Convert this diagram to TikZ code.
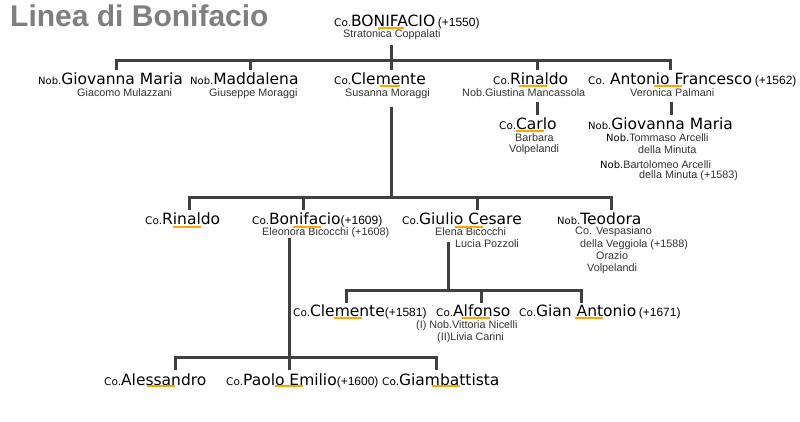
\documentclass[tikz,border=0pt]{standalone}
\usepackage{fontspec}
\setmainfont{DejaVu Sans}
\newfontfamily\namefont{DejaVu Sans}
\newfontfamily\smallfont{Liberation Sans}
\newfontfamily\titlefont{Liberation Sans}
\definecolor{lnc}{HTML}{404040}
\definecolor{ulc}{HTML}{FFA500}
\definecolor{smc}{HTML}{333333}
\definecolor{ttc}{HTML}{7F7F7F}
\newcommand\pCo{{\namefont\fontsize{10.5}{12}\selectfont Co.}}
\newcommand\pNob{{\namefont\fontsize{10}{12}\selectfont Nob.}}
\newcommand\yr[1]{{\smallfont\fontsize{12}{14}\selectfont #1}}
\tikzset{
  nm/.style={anchor=base west, inner sep=0pt, font=\namefont\fontsize{15.5}{18}\selectfont, text=black},
  sm/.style={anchor=base west, inner sep=0pt, font=\smallfont\fontsize{10.8}{13}\selectfont, text=smc},
  tree/.style={draw=lnc, line width=3pt, line join=miter},
  uline/.style={draw=ulc, line width=2pt},
}
\begin{document}
\begin{tikzpicture}[x=1pt,y=-1pt]
\useasboundingbox (0,0) rectangle (800,421);
% title
\node[anchor=base west, inner sep=0pt, font=\titlefont\bfseries\fontsize{30}{34}\selectfont, text=ttc] (title) at (10,26) {Linea di Bonifacio};
% generation 0
\node[nm] (g0) at (334,26) {\pCo BONIFACIO\,\yr{(+1550)}};
\node[sm] (g0s) at (343,37) {Stratonica Coppalati};
% generation 1
\node[nm] (a1) at (38,84) {\pNob Giovanna Maria};
\node[sm] (a1s) at (77,96) {Giacomo Mulazzani};
\node[nm] (a2) at (190,84) {\pNob Maddalena};
\node[sm] (a2s) at (209,96) {Giuseppe Moraggi};
\node[nm] (a3) at (334,84) {\pCo Clemente};
\node[sm] (a3s) at (345,96) {Susanna Moraggi};
\node[nm] (a4) at (493,84) {\pCo Rinaldo};
\node[sm] (a4s) at (462,96) {Nob.Giustina Mancassola};
\node[nm] (a5) at (588,84) {\pCo\ Antonio Francesco\,\yr{(+1562)}};
\node[sm] (a5s) at (630,96) {Veronica Palmani};
% children of Rinaldo and Antonio Francesco
\node[nm] (b1) at (499,129) {\pCo Carlo};
\node[sm] (b1s1) at (515,141) {Barbara};
\node[sm] (b1s2) at (509,152) {Volpelandi};
\node[nm] (b2) at (588,129) {\pNob Giovanna Maria};
\node[sm] (b2s1) at (606,141) {{\color{black}\pNob}Tommaso Arcelli};
\node[sm] (b2s2) at (638,153) {della Minuta};
\node[sm] (b2s3) at (600,168) {{\color{black}\pNob}Bartolomeo Arcelli};
\node[sm] (b2s4) at (639,178) {della Minuta (+1583)};
% generation 2 (children of Clemente)
\node[nm] (c1) at (145,224) {\pCo Rinaldo};
\node[nm] (c2) at (252,224) {\pCo Bonifacio\yr{(+1609)}};
\node[sm] (c2s) at (262,235) {Eleonora Bicocchi (+1608)};
\node[nm] (c3) at (402,224) {\pCo Giulio Cesare};
\node[sm] (c3s1) at (435,235) {Elena Bicocchi};
\node[sm] (c3s2) at (455,247) {Lucia Pozzoli};
\node[nm] (c4) at (557,224) {\pNob Teodora};
\node[sm] (c4s1) at (575,234) {Co. Vespasiano};
\node[sm] (c4s2) at (580,247) {della Veggiola (+1588)};
\node[sm] (c4s3) at (596,259) {Orazio};
\node[sm] (c4s4) at (587,271) {Volpelandi};
% children of Giulio Cesare
\node[nm] (d1) at (293,316) {\pCo Clemente\yr{(+1581)}};
\node[nm] (d2) at (436,316) {\pCo Alfonso};
\node[sm] (d2s1) at (416,328) {(I) Nob.Vittoria Nicelli};
\node[sm] (d2s2) at (437,340) {(II)Livia Carini};
\node[nm] (d3) at (519,316) {\pCo Gian Antonio\,\yr{(+1671)}};
% children of Bonifacio
\node[nm] (e1) at (104,385) {\pCo Alessandro};
\node[nm] (e2) at (226,385) {\pCo Paolo Emilio\yr{(+1600)}};
\node[nm] (e3) at (382,385) {\pCo Giambattista};
% junction coordinates
\coordinate (p0) at (391,45);
\coordinate (bar0) at (391,60);
\coordinate (t1) at (116,70);
\coordinate (t2) at (250,70);
\coordinate (t3) at (391,70);
\coordinate (t4) at (537,70);
\coordinate (t5) at (670,70);
\coordinate (p4) at (537,102);
\coordinate (q4) at (537,115);
\coordinate (p5) at (671,102);
\coordinate (q5) at (671,115);
\coordinate (p3) at (391,107);
\coordinate (bar3) at (391,197);
\coordinate (u1) at (189,210);
\coordinate (u2) at (303,210);
\coordinate (u3) at (477,210);
\coordinate (u4) at (611,210);
\coordinate (pc2) at (289,238);
\coordinate (barc2) at (289,357);
\coordinate (v1) at (175,370);
\coordinate (v2) at (289,370);
\coordinate (v3) at (436,370);
\coordinate (pc3) at (448,242);
\coordinate (barc3) at (448,290);
\coordinate (w1) at (346,303);
\coordinate (w2) at (481,303);
\coordinate (w3) at (581,303);
% tree lines
\draw[tree] (p0) -- (bar0);
\draw[tree] (t1) -- (t1 |- bar0) -- (t5 |- bar0) -- (t5);
\draw[tree] (t2 |- bar0) -- (t2);
\draw[tree] (bar0) -- (t3);
\draw[tree] (t4 |- bar0) -- (t4);
\draw[tree] (p4) -- (q4);
\draw[tree] (p5) -- (q5);
\draw[tree] (p3) -- (bar3);
\draw[tree] (u1) -- (u1 |- bar3) -- (u4 |- bar3) -- (u4);
\draw[tree] (u2 |- bar3) -- (u2);
\draw[tree] (u3 |- bar3) -- (u3);
\draw[tree] (pc2) -- (v2);
\draw[tree] (v1) -- (v1 |- barc2) -- (v3 |- barc2) -- (v3);
\draw[tree] (pc3) -- (barc3);
\draw[tree] (w1) -- (w1 |- barc3) -- (w3 |- barc3) -- (w3);
\draw[tree] (w2 |- barc3) -- (w2);
% orange underlines
\draw[uline] (378,28) -- (404,28);
\draw[uline] (380,86) -- (400,86);
\draw[uline] (519,86) -- (547,86);
\draw[uline] (654,86) -- (682,86);
\draw[uline] (516,131) -- (544,131);
\draw[uline] (173,227) -- (201,227);
\draw[uline] (293,227) -- (321,227);
\draw[uline] (455,227) -- (483,227);
\draw[uline] (334,318) -- (362,318);
\draw[uline] (462,318) -- (490,318);
\draw[uline] (575,318) -- (603,318);
\draw[uline] (147,386) -- (175,386);
\draw[uline] (275,386) -- (303,386);
\draw[uline] (432,386) -- (460,386);
\end{tikzpicture}
\end{document}
